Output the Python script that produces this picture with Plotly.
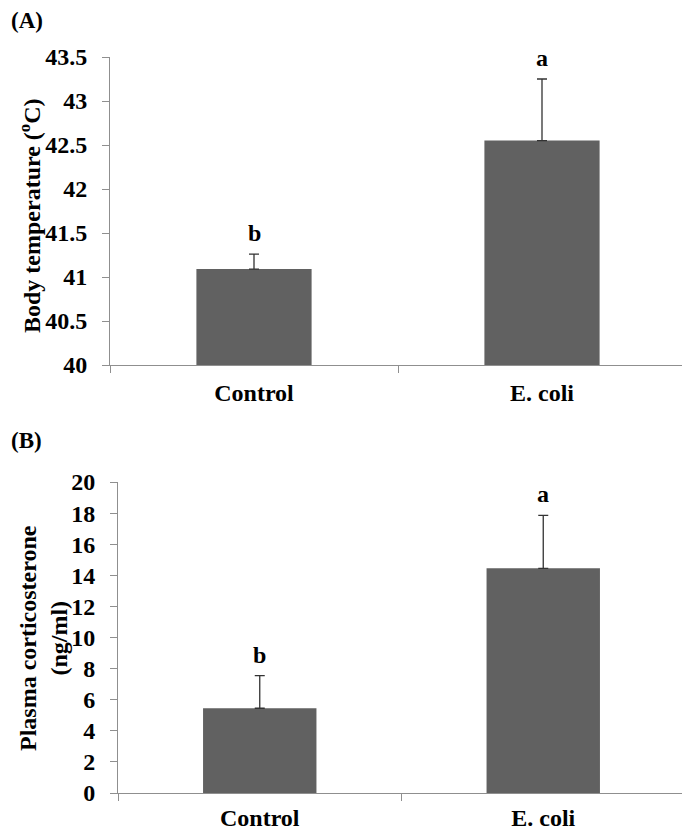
import plotly.graph_objects as go

categories = ["Control", "E. coli"]
temp_values = [41.09, 42.55]
temp_err = [0.17, 0.70]
temp_letters = ["b", "a"]
cort_values = [5.45, 14.45]
cort_err = [2.1, 3.4]
cort_letters = ["b", "a"]
temp_ticks = [40, 40.5, 41, 41.5, 42, 42.5, 43, 43.5]
temp_ticktext = ["40", "40.5", "41", "41.5", "42", "42.5", "43", "43.5"]
cort_ticks = [0, 2, 4, 6, 8, 10, 12, 14, 16, 18, 20]

FONT = "Liberation Serif"
BAR = "#616161"
AX = "#8f8f8f"
OFF = 8  # page body margin
W, H = 690 - OFF, 831 - OFF


def px(x):
    return (x - OFF) / W


def py(y):
    return 1 - (y - OFF) / H


def bfont(size):
    return dict(family=FONT, size=size, color="black", weight="bold")


fig = go.Figure()

fig.add_trace(go.Bar(
    x=categories, y=temp_values, marker=dict(color=BAR, line=dict(width=0)),
    error_y=dict(type="data", array=temp_err, arrayminus=[0, 0], symmetric=False,
                 color="#333333", thickness=1.3, width=5),
    xaxis="x", yaxis="y", showlegend=False))

fig.add_trace(go.Bar(
    x=categories, y=cort_values, marker=dict(color=BAR, line=dict(width=0)),
    error_y=dict(type="data", array=cort_err, arrayminus=[0, 0], symmetric=False,
                 color="#333333", thickness=1.3, width=5),
    xaxis="x2", yaxis="y2", showlegend=False))

# letters above error bars
for c, v, e, t in zip(categories, temp_values, temp_err, temp_letters):
    fig.add_annotation(x=c, y=v + e, xref="x", yref="y", text=t, showarrow=False,
                       yanchor="bottom", yshift=6, font=bfont(24))
for c, v, e, t in zip(categories, cort_values, cort_err, cort_letters):
    fig.add_annotation(x=c, y=v + e, xref="x2", yref="y2", text=t, showarrow=False,
                       yanchor="bottom", yshift=6, font=bfont(24))

axis_common = dict(showgrid=False, zeroline=False, showline=True, linecolor=AX, linewidth=1,
                   ticks="outside", tickcolor=AX, ticklen=7, tickfont=bfont(24),
                   automargin=False)

fig.update_layout(
    width=W, height=H, margin=dict(l=0, r=0, t=0, b=0, autoexpand=False),
    paper_bgcolor="white", plot_bgcolor="white", bargap=0.6,
    xaxis=dict(domain=[px(110), px(686)], anchor="y", tickson="boundaries",
               ticklabelstandoff=6, **axis_common),
    yaxis=dict(domain=[py(365), py(57)], anchor="x", range=[40, 43.5],
               tickvals=temp_ticks, ticktext=temp_ticktext, ticklabelstandoff=10, **axis_common),
    xaxis2=dict(domain=[px(118), px(685)], anchor="y2", tickson="boundaries",
                ticklabelstandoff=3, **axis_common),
    yaxis2=dict(domain=[py(793), py(482)], anchor="x2", range=[0, 20],
                tickvals=cort_ticks, ticklabelstandoff=10, **axis_common),
)

# axis titles
fig.add_annotation(x=px(30), y=py(216), xref="paper", yref="paper", textangle=-90,
                   xanchor="center", yanchor="middle",
                   text="Body temperature (<sup>o</sup>C)", showarrow=False, font=bfont(24))
fig.add_annotation(x=px(43), y=py(638), xref="paper", yref="paper", textangle=-90,
                   xanchor="center", yanchor="middle",
                   text="Plasma corticosterone<br>(ng/ml)", showarrow=False, font=bfont(24))

# panel labels
fig.add_annotation(x=px(9), y=py(20), xref="paper", yref="paper", xanchor="left",
                   yanchor="middle", text="(A)", showarrow=False, font=bfont(23))
fig.add_annotation(x=px(9), y=py(440), xref="paper", yref="paper", xanchor="left",
                   yanchor="middle", text="(B)", showarrow=False, font=bfont(23))

fig.write_html("out.html")
